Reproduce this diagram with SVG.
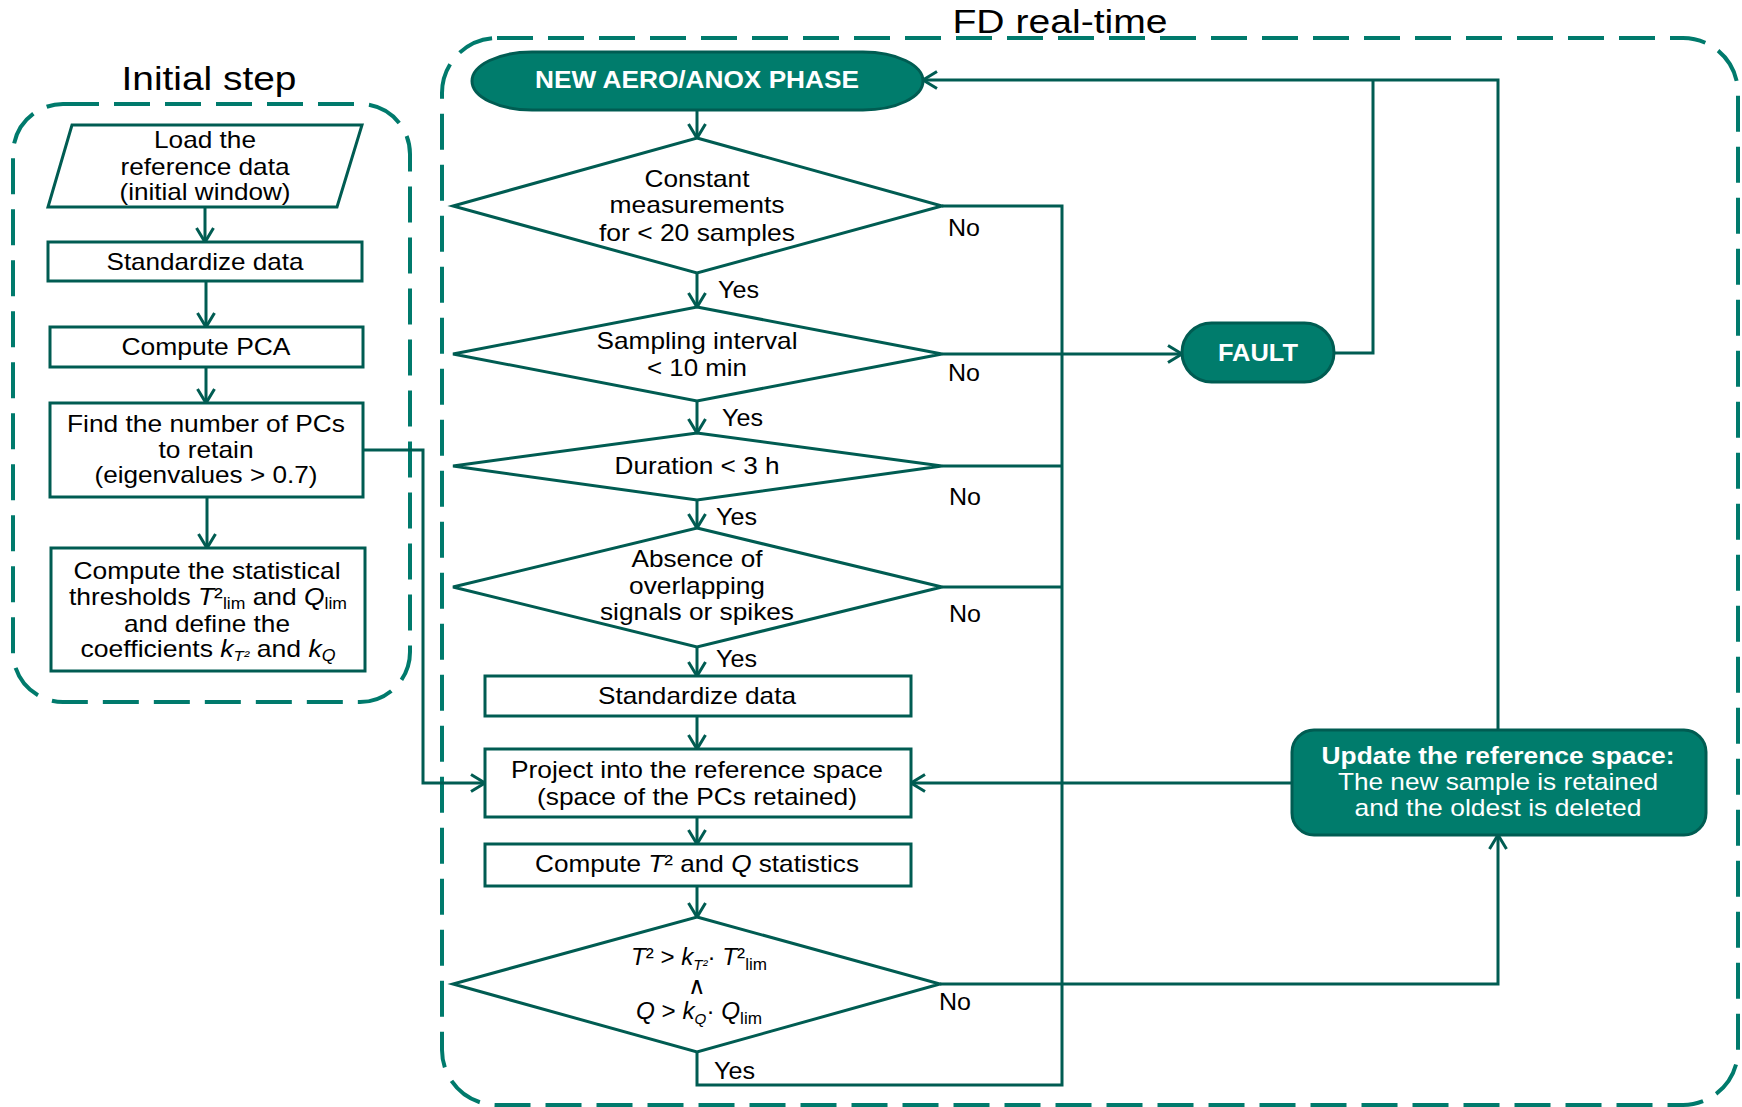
<svg xmlns="http://www.w3.org/2000/svg" width="1742" height="1107" viewBox="0 0 1742 1107">
<style>
.n{fill:#fff;stroke:#005C52;stroke-width:3}
.d{fill:#007C6C;stroke:#005C52;stroke-width:3}
.c{fill:none;stroke:#005C52;stroke-width:3}
.g{fill:none;stroke:#007A6C;stroke-width:4;stroke-dasharray:36 15}
.t{font-family:"Liberation Sans",Arial,sans-serif;font-size:24px;fill:#000;text-anchor:middle}
.w{fill:#fff;font-weight:bold}
.wn{fill:#fff}
.l{font-family:"Liberation Sans",Arial,sans-serif;font-size:23px;fill:#000}
.h{font-family:"Liberation Sans",Arial,sans-serif;font-size:33px;fill:#000}
.i{font-style:italic}
</style>
<defs>
<marker id="a" markerWidth="22" markerHeight="22" refX="15" refY="10" orient="auto" markerUnits="userSpaceOnUse">
<path d="M1,1.5 L15,10 L1,18.5" fill="none" stroke="#005C52" stroke-width="3"/>
</marker>
</defs>
<rect id="background" x="0" y="0" width="1742" height="1107" fill="#fff"/>
<g id="group-initial">
<rect class="g" x="13" y="104" width="397" height="598" rx="50"/>
<text class="h" x="209" y="90" text-anchor="middle" textLength="175" lengthAdjust="spacingAndGlyphs">Initial step</text>
</g>
<g id="group-fd">
<rect class="g" x="442" y="38" width="1296" height="1067" rx="55"/>
<text class="h" x="1060" y="33" text-anchor="middle" textLength="215" lengthAdjust="spacingAndGlyphs">FD real-time</text>
</g>
<g id="connectors">
<line class="c" x1="205" y1="207" x2="205" y2="242" marker-end="url(#a)"/>
<line class="c" x1="206" y1="281" x2="206" y2="327" marker-end="url(#a)"/>
<line class="c" x1="206" y1="367" x2="206" y2="403" marker-end="url(#a)"/>
<line class="c" x1="207" y1="497" x2="207" y2="548" marker-end="url(#a)"/>
<polyline class="c" points="363,450 423,450 423,783 485,783" marker-end="url(#a)"/>
<line class="c" x1="697" y1="110" x2="697" y2="138" marker-end="url(#a)"/>
<line class="c" x1="697" y1="273" x2="697" y2="307" marker-end="url(#a)"/>
<line class="c" x1="697" y1="401" x2="697" y2="433" marker-end="url(#a)"/>
<line class="c" x1="697" y1="500" x2="697" y2="528" marker-end="url(#a)"/>
<line class="c" x1="697" y1="647" x2="697" y2="676" marker-end="url(#a)"/>
<line class="c" x1="697" y1="716" x2="697" y2="749" marker-end="url(#a)"/>
<line class="c" x1="697" y1="817" x2="697" y2="844" marker-end="url(#a)"/>
<line class="c" x1="697" y1="886" x2="697" y2="917" marker-end="url(#a)"/>
<polyline class="c" points="942,206 1062,206 1062,1085 697,1085 697,1052"/>
<line class="c" x1="942" y1="466" x2="1062" y2="466"/>
<line class="c" x1="942" y1="587" x2="1062" y2="587"/>
<line class="c" x1="942" y1="354" x2="1182" y2="354" marker-end="url(#a)"/>
<polyline class="c" points="1334,353 1373,353 1373,80"/>
<polyline class="c" points="1498,730 1498,80 923,80" marker-end="url(#a)"/>
<line class="c" x1="1292" y1="783" x2="911" y2="783" marker-end="url(#a)"/>
<polyline class="c" points="940,984 1498,984 1498,835" marker-end="url(#a)"/>
<text class="l" x="948" y="236" textLength="32" lengthAdjust="spacingAndGlyphs">No</text>
<text class="l" x="948" y="381" textLength="32" lengthAdjust="spacingAndGlyphs">No</text>
<text class="l" x="949" y="505" textLength="32" lengthAdjust="spacingAndGlyphs">No</text>
<text class="l" x="949" y="622" textLength="32" lengthAdjust="spacingAndGlyphs">No</text>
<text class="l" x="939" y="1010" textLength="32" lengthAdjust="spacingAndGlyphs">No</text>
<text class="l" x="718" y="298" textLength="41" lengthAdjust="spacingAndGlyphs">Yes</text>
<text class="l" x="722" y="426" textLength="41" lengthAdjust="spacingAndGlyphs">Yes</text>
<text class="l" x="716" y="525" textLength="41" lengthAdjust="spacingAndGlyphs">Yes</text>
<text class="l" x="716" y="667" textLength="41" lengthAdjust="spacingAndGlyphs">Yes</text>
<text class="l" x="714" y="1079" textLength="41" lengthAdjust="spacingAndGlyphs">Yes</text>
</g>
<g id="load-data">
<polygon class="n" points="72,125 362,125 337,207 48,207"/>
<text class="t" x="205" y="148" textLength="102" lengthAdjust="spacingAndGlyphs">Load the</text>
<text class="t" x="205" y="175" textLength="169" lengthAdjust="spacingAndGlyphs">reference data</text>
<text class="t" x="205" y="200" textLength="171" lengthAdjust="spacingAndGlyphs">(initial window)</text>
</g>
<g id="standardize-initial">
<rect class="n" x="48" y="242" width="314" height="39"/>
<text class="t" x="205" y="270" textLength="197" lengthAdjust="spacingAndGlyphs">Standardize data</text>
</g>
<g id="compute-pca">
<rect class="n" x="50" y="327" width="313" height="40"/>
<text class="t" x="206" y="355" textLength="169" lengthAdjust="spacingAndGlyphs">Compute PCA</text>
</g>
<g id="find-pcs">
<rect class="n" x="50" y="403" width="313" height="94"/>
<text class="t" x="206" y="432" textLength="278" lengthAdjust="spacingAndGlyphs">Find the number of PCs</text>
<text class="t" x="206" y="458" textLength="95" lengthAdjust="spacingAndGlyphs">to retain</text>
<text class="t" x="206" y="483" textLength="223" lengthAdjust="spacingAndGlyphs">(eigenvalues &gt; 0.7)</text>
</g>
<g id="compute-thresholds">
<rect class="n" x="51" y="548" width="314" height="123"/>
<text class="t" x="207" y="579" textLength="267" lengthAdjust="spacingAndGlyphs">Compute the statistical</text>
<text class="t" x="208" y="605" textLength="278" lengthAdjust="spacingAndGlyphs">thresholds <tspan class="i">T</tspan>²<tspan dy="4" font-size="16">lim</tspan><tspan dy="-4"> and </tspan><tspan class="i">Q</tspan><tspan dy="4" font-size="16">lim</tspan></text>
<text class="t" x="207" y="632" textLength="166" lengthAdjust="spacingAndGlyphs">and define the</text>
<text class="t" x="208" y="657" textLength="255" lengthAdjust="spacingAndGlyphs">coefficients <tspan class="i">k</tspan><tspan dy="4" font-size="15" class="i">T²</tspan><tspan dy="-4"> and </tspan><tspan class="i">k</tspan><tspan dy="4" font-size="16" class="i">Q</tspan></text>
</g>
<g id="new-phase">
<rect class="d" x="472" y="52" width="451" height="58" rx="60" ry="29"/>
<text class="t w" x="697" y="88" font-size="22" textLength="324" lengthAdjust="spacingAndGlyphs">NEW AERO/ANOX PHASE</text>
</g>
<g id="check-constant">
<polygon class="n" points="697,138 942,206 697,273 453,206"/>
<text class="t" x="697" y="187" textLength="105" lengthAdjust="spacingAndGlyphs">Constant</text>
<text class="t" x="697" y="213" textLength="175" lengthAdjust="spacingAndGlyphs">measurements</text>
<text class="t" x="697" y="241" textLength="196" lengthAdjust="spacingAndGlyphs">for &lt; 20 samples</text>
</g>
<g id="check-interval">
<polygon class="n" points="697,307 942,354 697,401 453,354"/>
<text class="t" x="697" y="349" textLength="201" lengthAdjust="spacingAndGlyphs">Sampling interval</text>
<text class="t" x="697" y="376" textLength="100" lengthAdjust="spacingAndGlyphs">&lt; 10 min</text>
</g>
<g id="check-duration">
<polygon class="n" points="697,433 942,466 697,500 453,466"/>
<text class="t" x="697" y="474" textLength="165" lengthAdjust="spacingAndGlyphs">Duration &lt; 3 h</text>
</g>
<g id="check-spikes">
<polygon class="n" points="697,528 942,587 697,647 453,587"/>
<text class="t" x="697" y="567" textLength="131" lengthAdjust="spacingAndGlyphs">Absence of</text>
<text class="t" x="697" y="594" textLength="136" lengthAdjust="spacingAndGlyphs">overlapping</text>
<text class="t" x="697" y="620" textLength="194" lengthAdjust="spacingAndGlyphs">signals or spikes</text>
</g>
<g id="standardize-rt">
<rect class="n" x="485" y="676" width="426" height="40"/>
<text class="t" x="697" y="704" textLength="198" lengthAdjust="spacingAndGlyphs">Standardize data</text>
</g>
<g id="project">
<rect class="n" x="485" y="749" width="426" height="68"/>
<text class="t" x="697" y="778" textLength="372" lengthAdjust="spacingAndGlyphs">Project into the reference space</text>
<text class="t" x="697" y="805" textLength="320" lengthAdjust="spacingAndGlyphs">(space of the PCs retained)</text>
</g>
<g id="compute-stats">
<rect class="n" x="485" y="844" width="426" height="42"/>
<text class="t" x="697" y="872" textLength="324" lengthAdjust="spacingAndGlyphs">Compute <tspan class="i">T</tspan>² and <tspan class="i">Q</tspan> statistics</text>
</g>
<g id="check-limits">
<polygon class="n" points="697,917 940,984 697,1052 453,984"/>
<text class="t" x="699" y="965" textLength="136" lengthAdjust="spacingAndGlyphs"><tspan class="i">T</tspan>² &gt; <tspan class="i">k</tspan><tspan dy="5" font-size="15" class="i">T²</tspan><tspan dy="-5">· </tspan><tspan class="i">T</tspan>²<tspan dy="5" font-size="17">lim</tspan></text>
<text class="t" x="697" y="994" font-family="'DejaVu Sans',sans-serif" font-size="22" font-weight="300">∧</text>
<text class="t" x="699" y="1019" textLength="126" lengthAdjust="spacingAndGlyphs"><tspan class="i">Q</tspan> &gt; <tspan class="i">k</tspan><tspan dy="5" font-size="15" class="i">Q</tspan><tspan dy="-5">· </tspan><tspan class="i">Q</tspan><tspan dy="5" font-size="17">lim</tspan></text>
</g>
<g id="fault">
<rect class="d" x="1182" y="323" width="152" height="59" rx="29.5"/>
<text class="t w" x="1258" y="361" font-size="23" textLength="80" lengthAdjust="spacingAndGlyphs">FAULT</text>
</g>
<g id="update-space">
<rect class="d" x="1292" y="730" width="414" height="105" rx="22"/>
<text class="t w" x="1498" y="764" font-size="23" textLength="353" lengthAdjust="spacingAndGlyphs">Update the reference space:</text>
<text class="t wn" x="1498" y="790" textLength="320" lengthAdjust="spacingAndGlyphs">The new sample is retained</text>
<text class="t wn" x="1498" y="816" textLength="287" lengthAdjust="spacingAndGlyphs">and the oldest is deleted</text>
</g>
</svg>
